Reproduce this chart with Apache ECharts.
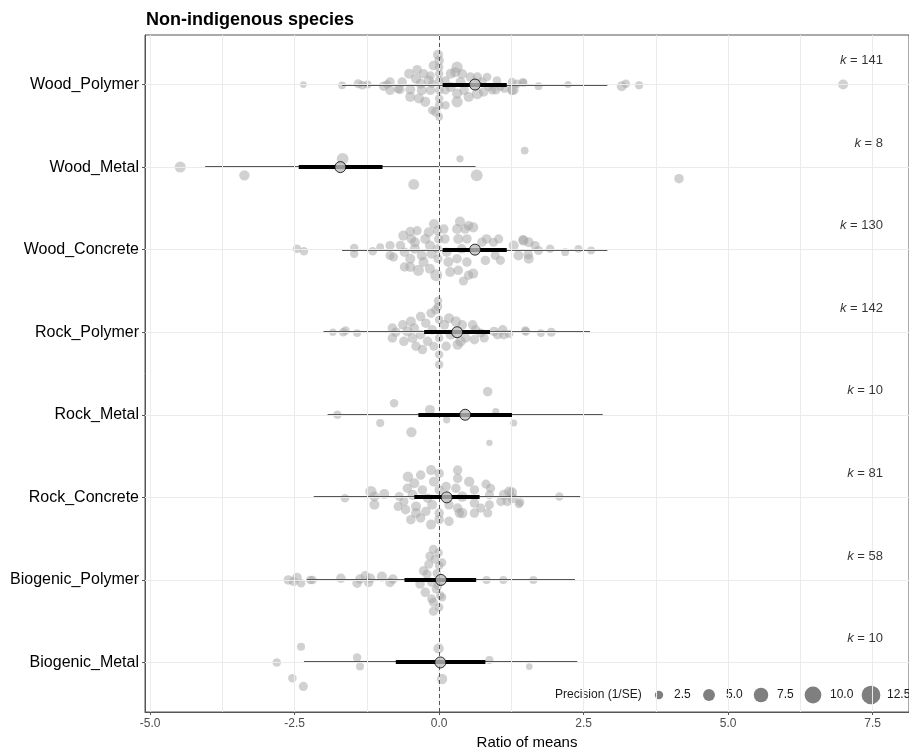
<!DOCTYPE html>
<html>
<head>
<meta charset="utf-8">
<script src="https://cdn.jsdelivr.net/npm/echarts@6/dist/echarts.min.js"></script>
<style>html,body{margin:0;padding:0;background:#fff;}#c{width:909px;height:750px;}</style>
</head>
<body>
<div id="c"></div>
<script>
// ---------- data ----------
const titleText = 'Non-indigenous species';
const xAxisName = 'Ratio of means';
const categories = ['Biogenic_Metal','Biogenic_Polymer','Rock_Concrete','Rock_Metal','Rock_Polymer','Wood_Concrete','Wood_Metal','Wood_Polymer'];
const kValues = [10, 58, 81, 10, 142, 130, 8, 141];
const meanEst = [0.02, 0.03, 0.13, 0.45, 0.31, 0.62, -1.71, 0.62];
const ciLow   = [-0.75, -0.60, -0.43, -0.36, -0.26, 0.06, -2.43, 0.06];
const ciHigh  = [0.80, 0.64, 0.70, 1.26, 0.88, 1.17, -0.98, 1.17];
const piLow   = [-2.34, -2.29, -2.17, -1.93, -2.00, -1.68, -4.05, -1.68];
const piHigh  = [2.39, 2.35, 2.44, 2.83, 2.61, 2.91, 0.63, 2.91];
const xTicks = [-5, -2.5, 0, 2.5, 5, 7.5];
const xGrid = [-5, -3.75, -2.5, -1.25, 0, 1.25, 2.5, 3.75, 5, 6.25, 7.5];
const legendPrecision = [2.5, 5, 7.5, 10, 12.5];
const legendTitle = 'Precision (1/SE)';

// effect sizes: [x, vertical jitter (row units), precision]
const ptsBiogenicMetal = [[-2.81,0,1.5],[-2.39,0.19,1.3],[-2.54,-0.19,1.5],[-2.35,-0.29,1.8],[-1.42,0.06,1.5],[-1.37,-0.05,1.3],[-0.01,0.17,2.5],[0.05,-0.2,2.5],[0.87,0.03,1.3],[1.56,-0.05,0.8]];
const ptsBiogenicPolymer = [[-2.61,0,2],[-2.52,-0.02,1.8],[-2.46,0.03,2],[-2.39,-0.04,1.5],[-2.23,0,1.5],[-2.19,0,1.5],[-1.70,0.02,2],[-1.42,-0.04,2],[-1.37,0.01,2],[-1.28,0.05,2],[-1.22,-0.03,2],[-1.19,0.02,2],[-0.99,0.04,2.3],[-0.85,-0.03,2],[-0.80,0.01,2],[-0.33,-0.05,2],[-0.27,0.11,2],[-0.24,-0.15,2],[-0.21,0.07,1.8],[-0.18,0.19,1.8],[-0.16,0.29,1.8],[-0.13,-0.03,1.8],[-0.13,-0.23,1.8],[-0.10,0.37,1.8],[-0.10,-0.38,1.8],[-0.10,-0.27,1.8],[-0.07,0.25,1.8],[-0.05,-0.11,1.8],[-0.01,0.33,1.5],[0.0,0.17,1.5],[0.02,-0.19,1.5],[0.0,-0.33,1.5],[0.05,0.21,1.5],[0.05,-0.21,1.5],[-0.04,0.08,1.5],[-0.02,-0.07,1.5],[0.82,0,1.3],[1.11,0,1.3],[1.63,0,1.3]];
const ptsRockConcrete = [[-1.63,-0.01,1.5],[-1.18,0.07,3],[-1.12,-0.09,2.3],[-1.12,0.01,2.3],[-0.95,0.04,2.3],[-0.69,0.01,1.8],[-0.71,-0.11,1.8],[-0.61,-0.05,1.8],[-0.54,0.25,2.5],[-0.55,0.11,2],[-0.58,-0.15,2],[-0.49,-0.27,2],[-0.43,0.17,2.3],[-0.46,0.03,2.3],[-0.40,-0.11,2.3],[-0.40,-0.19,2.3],[-0.32,0.27,2],[-0.29,0.09,2],[-0.32,-0.25,2],[-0.20,-0.01,2],[-0.23,-0.17,2],[-0.14,0.33,2.3],[-0.09,0.19,2.3],[-0.12,-0.09,2.3],[-0.14,-0.33,2.3],[0,0.29,2],[0,0.09,2],[0,-0.19,2],[0,-0.27,2],[0.12,0.13,2],[0.17,-0.09,2],[0.17,-0.29,2],[0.32,0.33,2],[0.32,0.23,2],[0.29,0.11,2],[0.32,-0.13,2],[0.35,-0.19,2],[0.40,0.01,2.5],[0.40,-0.19,2.5],[0.52,0.19,2.5],[0.61,0.09,2],[0.61,-0.07,2],[0.61,-0.19,2],[0.72,-0.13,1.8],[0.81,0.16,1.8],[0.87,0.03,1.8],[0.89,0.11,1.8],[0.87,-0.09,1.8],[0.84,-0.19,1.8],[1.07,-0.05,2],[1.12,0.03,2.3],[1.21,0.07,2.3],[1.27,-0.01,2.3],[1.18,-0.05,2],[1.26,0.06,2.3],[1.40,-0.06,1.5],[1.38,-0.08,1.5],[2.08,0.01,1.5]];
const ptsRockMetal = [[-1.76,0,1.5],[-0.78,0.14,1.5],[-1.02,-0.1,1.3],[-0.48,-0.21,2.5],[-0.16,0.06,2.2],[0.13,-0.06,1.0],[0.84,0.28,2],[0.98,0.04,0.9],[1.29,-0.1,0.9],[0.87,-0.34,0.7]];
const ptsRockPolymer = [[-1.84,0,1.0],[-1.66,0,1.5],[-1.62,0.02,1.5],[-1.42,-0.01,1.2],[-0.81,0.05,2],[-0.81,-0.07,2],[-0.75,0,2],[-0.63,0.09,2],[-0.61,-0.11,2],[-0.55,0.01,2.3],[-0.49,0.13,2.3],[-0.46,-0.07,2.3],[-0.43,0.05,2],[-0.40,-0.17,2],[-0.32,0.19,2],[-0.32,-0.03,2],[-0.29,-0.21,2],[-0.23,0.11,2],[-0.20,-0.11,2],[-0.14,0.23,2],[-0.12,0.03,2],[-0.06,0.27,1.8],[-0.09,-0.17,1.8],[-0.02,0.38,1.5],[-0.02,0.31,1.5],[0,0.15,1.5],[0,-0.07,1.5],[0,-0.27,1.5],[0,-0.39,1.5],[0.09,0.09,2],[0.12,-0.17,2],[0.17,0.17,2.3],[0.20,-0.03,2.3],[0.29,0.13,2.5],[0.32,-0.15,2.5],[0.37,-0.11,2.5],[0.40,0.09,2],[0.46,-0.07,2],[0.58,0.09,2],[0.63,0.03,2],[0.61,-0.09,2],[0.72,-0.01,1.8],[0.78,-0.07,1.8],[0.95,0.01,2],[1.01,-0.03,2],[1.10,0.03,2],[1.12,-0.03,2],[1.21,-0.02,1.5],[1.50,0.01,1.5],[1.49,0.02,1.5],[1.76,-0.01,1.2],[1.94,0,1.8]];
const ptsWoodConcrete = [[-2.46,0.01,1.5],[-2.34,-0.02,1.5],[-1.47,0.02,1.5],[-1.47,-0.05,1.5],[-1.15,-0.02,1.5],[-1.02,0.03,1.2],[-0.85,0.05,1.8],[-0.85,-0.07,1.8],[-0.79,-0.09,1.8],[-0.67,0.05,2],[-0.62,0.17,2.3],[-0.60,-0.03,2],[-0.60,-0.21,2],[-0.50,0.22,2],[-0.48,0.13,2],[-0.50,-0.11,2.3],[-0.50,-0.21,2.3],[-0.42,0.09,2.3],[-0.42,0.01,2.3],[-0.38,0.23,1.8],[-0.36,-0.25,3],[-0.30,-0.07,2.3],[-0.27,-0.15,2.3],[-0.24,0.13,2.3],[-0.18,0.21,2.3],[-0.16,0.05,2.3],[-0.13,-0.05,2.3],[-0.16,-0.23,2.3],[-0.09,0.31,2.3],[-0.05,-0.31,3.5],[-0.03,0.23,1.8],[-0.01,0.13,1.8],[-0.03,0.01,1.8],[-0.02,-0.11,1.8],[0.08,0.25,2],[0.10,0.13,2],[0.13,-0.03,2],[0.16,-0.15,2.3],[0.19,-0.27,2.3],[0.31,0.25,2.3],[0.33,0.13,2.3],[0.36,0.34,2.3],[0.39,0.01,2],[0.31,-0.11,2],[0.33,-0.25,2],[0.45,0.25,2],[0.48,0.13,2],[0.51,0.29,2],[0.48,-0.15,2],[0.51,-0.31,2],[0.59,0.27,2.3],[0.59,-0.29,2.3],[0.42,-0.38,1.8],[0.74,0.09,2],[0.82,0.13,2],[0.80,-0.13,2],[0.94,0.09,1.8],[0.97,-0.07,1.8],[1.03,0.13,1.8],[1.06,-0.13,1.8],[1.29,0.05,2.3],[1.37,-0.07,2.3],[1.46,0.11,2.3],[1.55,0.09,2.3],[1.55,-0.11,2.3],[1.45,0.12,2],[1.54,-0.06,2],[1.66,0.05,1.8],[1.72,-0.01,1.8],[1.92,0.01,1.5],[2.18,-0.03,1.2],[2.41,0.01,1.2],[2.63,-0.01,1.2]];
const ptsWoodMetal = [[-4.48,0,2.9],[-3.37,-0.1,2.5],[-1.67,0.1,3.5],[-0.44,-0.21,2.8],[0.36,0.1,1.0],[0.65,-0.1,3.5],[1.48,0.2,1.2],[4.15,-0.14,2.0]];
const ptsWoodPolymer = [[-2.35,0,0.8],[-1.68,-0.01,1.2],[-1.40,0.01,1.8],[-1.33,-0.01,1.5],[-1.24,0,1.3],[-0.96,-0.02,2],[-0.90,0,1.5],[-0.85,0.03,2],[-0.85,-0.07,2],[-0.71,-0.05,1.8],[-0.68,-0.06,2],[-0.64,0.03,2],[-0.52,0.13,2.3],[-0.50,-0.06,2.3],[-0.50,-0.15,2.3],[-0.40,0.07,2.3],[-0.38,0.18,2],[-0.32,0.01,2.3],[-0.30,-0.07,2.3],[-0.35,-0.17,2.3],[-0.27,0.13,2],[-0.24,-0.21,2.3],[-0.18,0.05,2.3],[-0.15,-0.07,2],[-0.15,0.11,1.5],[-0.10,0.23,2],[-0.12,0.01,1.5],[-0.12,-0.31,1.5],[-0.06,-0.33,2],[-0.02,0.36,2.3],[0,0.29,2],[0,0.21,1.5],[0,0.13,1.5],[0,0.05,1.5],[0,-0.07,1.5],[0,-0.17,1.5],[0,-0.25,1.5],[0,-0.39,1.2],[0.11,0.05,1.5],[0.11,-0.07,1.5],[0.11,-0.25,1.5],[0.20,0.13,2.3],[0.20,-0.03,2.3],[0.28,0.15,2.3],[0.31,0.21,3],[0.31,-0.11,2.3],[0.31,-0.21,3],[0.37,0.03,2.3],[0.40,0.13,2],[0.43,-0.07,2],[0.51,-0.15,2.3],[0.54,0.09,2],[0.66,0.09,2],[0.66,-0.11,3],[0.74,0.03,2],[0.77,-0.09,2],[0.83,0.09,1.5],[0.86,-0.03,1.5],[0.92,-0.07,1.5],[0.98,-0.07,1.5],[1.00,0.05,1.5],[1.06,-0.03,1.2],[1.13,-0.05,1.5],[1.26,0.03,1.5],[1.26,-0.07,2],[1.28,-0.06,3],[1.35,0.01,1.5],[1.45,0.03,1.3],[1.46,0.02,1.2],[1.72,-0.02,1.2],[2.23,0,0.9],[3.16,-0.02,2.3],[3.23,0.01,1.5],[3.46,-0.01,1.3],[6.99,0,2.3]];
const rowPoints = [ptsBiogenicMetal, ptsBiogenicPolymer, ptsRockConcrete, ptsRockMetal, ptsRockPolymer, ptsWoodConcrete, ptsWoodMetal, ptsWoodPolymer];

// ---------- build ----------
const FONT = "'Liberation Sans', Arial, sans-serif";
const sizeOf = p => 5.3 * Math.sqrt(p);
const scatterData = [];
rowPoints.forEach((arr, i) => arr.forEach(d => scatterData.push([d[0], i + 1 + d[1], d[2]])));
const piData = categories.map((c, i) => [i + 1, piLow[i], piHigh[i]]);
const ciData = categories.map((c, i) => [i + 1, ciLow[i], ciHigh[i]]);
const meanData = categories.map((c, i) => [meanEst[i], i + 1]);
const kData = categories.map((c, i) => ({ value: [7.68, i + 1 + 0.29], k: kValues[i] }));
const rowVals = categories.map((c, i) => i + 1);

const gridLines = xGrid.map(v => ({ xAxis: v })).concat(rowVals.map(v => ({ yAxis: v })));

const chart = echarts.init(document.getElementById('c'), null, { renderer: 'canvas' });

function intervalSeries(data, color, width, z) {
  return {
    type: 'custom', z: z, silent: true, data: data,
    encode: { x: [1, 2], y: 0 },
    renderItem: (params, api) => {
      const y = api.value(0);
      const a = api.coord([api.value(1), y]), b = api.coord([api.value(2), y]);
      const py = Math.round(a[1]);
      return { type: 'line', shape: { x1: a[0], y1: py, x2: b[0], y2: py }, style: { stroke: color, lineWidth: width, fill: null } };
    }
  };
}

// legend graphic
const lg = [];
lg.push({ type: 'text', left: 555, top: 689, style: { text: legendTitle, font: '12px ' + FONT, fill: '#1a1a1a' } });
const legendX = [659, 709, 761, 813, 871];
const legendLabelX = [674, 726, 777, 830, 887];
legendPrecision.forEach((p, i) => {
  lg.push({ type: 'circle', shape: { cx: legendX[i], cy: 695, r: sizeOf(p) / 2 }, style: { fill: '#7f7f7f' } });
  lg.push({ type: 'text', left: legendLabelX[i], top: 689, style: { text: p.toFixed(1), font: '12px ' + FONT, fill: '#1a1a1a' } });
});

const option = {
  animation: false,
  backgroundColor: '#ffffff',
  title: { text: titleText, left: 146, top: 11, padding: 0, textStyle: { fontFamily: FONT, fontSize: 18, fontWeight: 'bold', color: '#000' } },
  grid: { left: 145, right: 0, top: 35, bottom: 38, show: true, borderColor: '#555', borderWidth: 1, containLabel: false, outerBoundsMode: 'none' },
  xAxis: {
    type: 'value', min: -5.09, max: 8.13,
    name: xAxisName, nameLocation: 'middle', nameGap: 21,
    nameTextStyle: { fontFamily: FONT, fontSize: 15, color: '#000' },
    axisLine: { show: true, onZero: false, lineStyle: { color: '#555', width: 1 } },
    axisTick: { show: true, length: 3, customValues: xTicks, lineStyle: { color: '#555' } },
    axisLabel: { customValues: xTicks, margin: 6, fontFamily: FONT, fontSize: 12, color: '#4d4d4d', formatter: v => v.toFixed(1) },
    splitLine: { show: false }
  },
  yAxis: {
    type: 'value', min: 0.4, max: 8.6,
    axisLine: { show: true, onZero: false, lineStyle: { color: '#555', width: 1 } },
    axisTick: { show: true, length: 3, customValues: rowVals, lineStyle: { color: '#555' } },
    axisLabel: { customValues: rowVals, margin: 6, fontFamily: FONT, fontSize: 16, color: '#000', formatter: v => categories[Math.round(v) - 1] || '' },
    splitLine: { show: false }
  },
  graphic: lg,
  series: [
    {
      type: 'line', data: [], silent: true, z: 0,
      markLine: { silent: true, symbol: ['none', 'none'], label: { show: false }, animation: false,
        lineStyle: { color: '#ebebeb', width: 1, type: 'solid' }, data: gridLines }
    },
    {
      type: 'scatter', name: 'effects', data: scatterData, z: 2, silent: true,
      symbolSize: d => sizeOf(d[2]) + 2,
      itemStyle: { color: '#a4a4a4', opacity: 0.5, borderWidth: 0 }
    },
    {
      type: 'line', data: [], silent: true, z: 3,
      markLine: { silent: true, symbol: ['none', 'none'], label: { show: false }, animation: false,
        lineStyle: { color: '#555', width: 1, type: [4, 3] }, data: [{ xAxis: 0 }] }
    },
    intervalSeries(piData, '#555555', 2, 4),
    intervalSeries(ciData, '#000000', 4, 5),
    {
      type: 'scatter', data: meanData, z: 6, silent: true, symbolSize: 11,
      itemStyle: { color: '#bebebe', borderColor: '#000', borderWidth: 1 }
    },
    {
      type: 'scatter', data: kData, z: 7, silent: true, symbolSize: 0,
      label: { show: true, position: 'left', distance: 0, fontFamily: FONT, fontSize: 13, color: '#000',
        formatter: p => '{i|k} = ' + p.data.k, rich: { i: { fontStyle: 'italic', fontFamily: FONT, fontSize: 13, color: '#000' } } }
    }
  ]
};
chart.setOption(option);
</script>
</body>
</html>
